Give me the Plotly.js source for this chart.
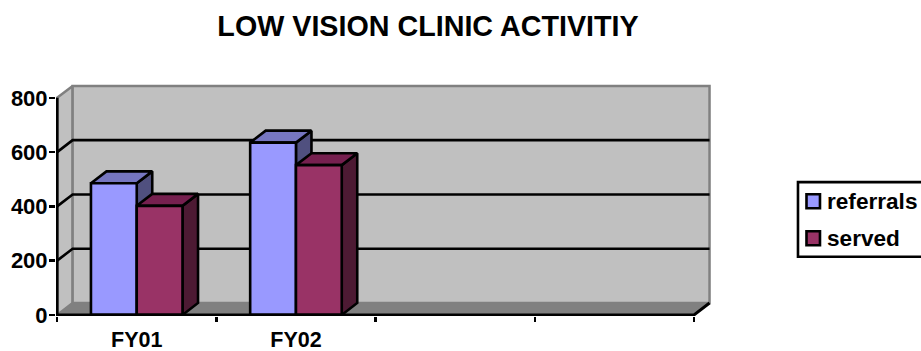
<!DOCTYPE html>
<html>
<head>
<meta charset="utf-8">
<script src="https://cdn.plot.ly/plotly-3.0.1.min.js"></script>
<style>html,body{margin:0;padding:0;background:#fff}#chart{width:921px;height:351px}</style>
</head>
<body>
<div id="chart"></div>
<script>
// Clinic activity per fiscal year
const categories = ['FY01', 'FY02'];
const referrals = [485, 635];
const served = [402, 552];
const yTicks = [0, 200, 400, 600, 800];
const gridValues = [200, 400, 600];
const slotEdges = [-0.5, 0.5, 1.5, 2.5, 3.5];

// Box depth of the pseudo-3D projection, in axis units
const depthX = 0.0975;
const depthY = 44;
const barWidth = 0.2875;
const yMax = 800;
const xLo = slotEdges[0];
const xHi = slotEdges[slotEdges.length - 1];
// A sliver of range below and left of the origin keeps the front edges off the plot boundary
const xRange = [xLo - 0.007, 3.613];
const yRange = [-4, 851];

const ink = '#000000';
const stroke = 2.6;
const font = {family: '"Liberation Sans", Arial, sans-serif', color: ink, weight: 700};

function poly(points, fill, lineColor, lineWidth) {
  const pts = points.flatMap(p => p === null ? [[null, null]] : [p]);
  return {
    type: 'scatter', mode: 'lines', x: pts.map(p => p[0]), y: pts.map(p => p[1]),
    fill: fill ? 'toself' : 'none', fillcolor: fill || undefined,
    line: {color: lineColor, width: lineWidth, simplify: false},
    hoverinfo: 'skip', showlegend: false, cliponaxis: false
  };
}

// Room: back wall, left wall and floor
const backWall = [[xLo + depthX, depthY], [xHi + depthX, depthY], [xHi + depthX, yMax + depthY], [xLo + depthX, yMax + depthY], [xLo + depthX, depthY]];
const leftWall = [[xLo, 0], [xLo + depthX, depthY], [xLo + depthX, yMax + depthY], [xLo, yMax], [xLo, 0]];
const floor = [[xLo, 0], [xHi, 0], [xHi + depthX, depthY], [xLo + depthX, depthY], [xLo, 0]];

// Gridlines wrap from the value axis across the left wall and back wall
const grid = gridValues.flatMap(v => [[xLo, v], [xLo + depthX, v + depthY], [xHi + depthX, v + depthY], null]);

// Top and side faces of a series, offset group position by `shift`
function topFaces(values, shift) {
  return values.flatMap((v, i) => {
    const l = i + shift, r = l + barWidth;
    return [[l, v], [r, v], [r + depthX, v + depthY], [l + depthX, v + depthY], [l, v], null];
  });
}
function sideFaces(values, shift) {
  return values.flatMap((v, i) => {
    const r = i + shift + barWidth;
    return [[r, 0], [r, v], [r + depthX, v + depthY], [r + depthX, depthY], [r, 0], null];
  });
}

const data = [
  poly(leftWall, '#c0c0c0', '#808080', 2.5),
  poly(backWall, '#c0c0c0', '#808080', 2.5),
  poly(floor, '#808080', '#808080', 1),
  poly(grid, null, ink, stroke),
  poly(sideFaces(referrals, -barWidth), '#50507f', ink, stroke),
  poly(topFaces(referrals, -barWidth), '#7676c0', ink, stroke),
  poly(sideFaces(served, 0), '#4d1a33', ink, stroke),
  poly(topFaces(served, 0), '#76204f', ink, stroke),
  {type: 'bar', name: 'referrals', x: [0, 1], y: referrals, xaxis: 'x2', yaxis: 'y2', width: barWidth,
   marker: {color: '#9999ff', line: {color: ink, width: stroke}}, showlegend: false},
  {type: 'bar', name: 'served', x: [0, 1], y: served, xaxis: 'x2', yaxis: 'y2', width: barWidth,
   marker: {color: '#993366', line: {color: ink, width: stroke}}, showlegend: false},
  // Front edges of the room, kept above the floor and the bars
  Object.assign(poly([[xLo, yMax], [xLo, 0], [xHi, 0], [xHi + depthX, depthY]], null, ink, 3), {xaxis: 'x2', yaxis: 'y2'})
];

// Key laid out in page pixels, converted to the plot's paper fractions
const margin = {l: 55.9, r: 209, t: 84, b: 35.4};
const plotW = 921 - margin.l - margin.r;
const plotH = 351 - margin.t - margin.b;
const px = (x) => (x - margin.l) / plotW;
const py = (y) => 1 - (y - margin.t) / plotH;
const keyRect = (x0, y0, x1, y1, fill, w) => ({
  type: 'rect', xref: 'paper', yref: 'paper', x0: px(x0), x1: px(x1), y0: py(y0), y1: py(y1),
  fillcolor: fill, line: {color: ink, width: w}, layer: 'above'
});
const keyLabel = (text, y) => ({
  text: text, xref: 'paper', yref: 'paper', x: px(825), y: py(y), xanchor: 'left', yanchor: 'middle',
  showarrow: false, font: Object.assign({}, font, {size: 22.6})
});

const layout = {
  width: 921, height: 351,
  margin: Object.assign({autoexpand: false}, margin),
  paper_bgcolor: '#ffffff', plot_bgcolor: 'rgba(0,0,0,0)',
  showlegend: false,
  title: {text: 'LOW VISION CLINIC ACTIVITIY', x: 428 / 921, xanchor: 'center', y: 1 - 26 / 351, yanchor: 'middle',
          font: Object.assign({}, font, {size: 28.7})},
  barmode: 'group', bargap: 0.425, bargroupgap: 0,
  xaxis: {range: xRange, tickmode: 'array', tickvals: [0, 1], ticktext: categories, ticks: '', showgrid: false,
          zeroline: false, showline: false, tickfont: Object.assign({}, font, {size: 21.5}), ticklabelstandoff: 8,
          minor: {tickmode: 'array', tickvals: slotEdges, ticks: 'outside', ticklen: 5, tickwidth: 2.5, tickcolor: ink, showgrid: false}},
  yaxis: {range: yRange, tickmode: 'array', tickvals: yTicks, ticks: 'outside', ticklen: 6, tickwidth: 2.5, tickcolor: ink,
          showgrid: false, zeroline: false, showline: false, ticklabelstandoff: -3,
          tickfont: Object.assign({}, font, {size: 22})},
  xaxis2: {range: xRange, overlaying: 'x', visible: false},
  yaxis2: {range: yRange, overlaying: 'y', visible: false},
  shapes: [
    keyRect(798, 182, 925, 256.5, '#ffffff', 2.6),
    keyRect(806.5, 194, 820, 208, '#9999ff', 2.6),
    keyRect(806.5, 231, 820, 245, '#993366', 2.6)
  ],
  annotations: [keyLabel('referrals', 201), keyLabel('served', 238)]
};

Plotly.newPlot('chart', data, layout, {displayModeBar: false, staticPlot: true});
</script>
</body>
</html>
